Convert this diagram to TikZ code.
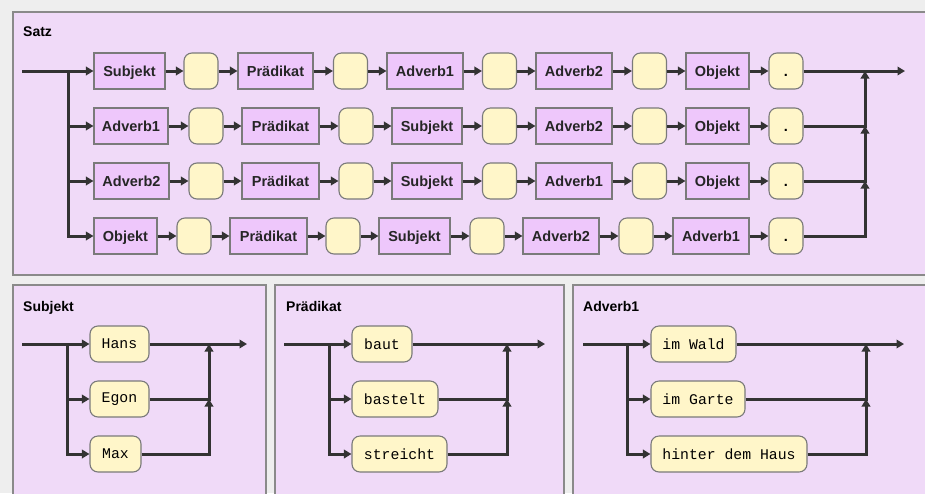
\documentclass[tikz,border=0pt]{standalone}
\usepackage{fontspec}
\setmainfont{Liberation Sans}
\newfontfamily\monof{Liberation Mono}
\usetikzlibrary{arrows.meta}
\definecolor{bgc}{HTML}{EEEEEE}
\definecolor{panelc}{HTML}{F0DAF8}
\definecolor{pboxc}{HTML}{EEC7FB}
\definecolor{yboxc}{HTML}{FFF6C9}
\definecolor{bord}{HTML}{7A7A7A}
\definecolor{pbord}{HTML}{8A8A8A}
\definecolor{ln}{HTML}{333333}
\begin{document}
\begin{tikzpicture}[x=1pt,y=-1pt,
 nt/.style={draw=bord, line width=1.1pt, fill=pboxc, minimum height=36pt, inner sep=0pt, text=black!85, font=\bfseries\fontsize{14.5}{14.5}\selectfont, text height=10.4pt, text depth=0pt},
 tm/.style={draw=bord, line width=1.1pt, fill=yboxc, rounded corners=8pt, minimum height=36pt, minimum width=34pt, inner sep=0pt, font=\bfseries\fontsize{14.5}{14.5}\selectfont, text height=10.4pt, text depth=0pt},
 mt/.style={draw=bord, line width=1.1pt, fill=yboxc, rounded corners=8pt, minimum height=36pt, inner sep=0pt, font=\monof\fontsize{14.8}{14.8}\selectfont},
 flow/.style={draw=ln, line width=3pt, -{Triangle[length=7.5pt,width=8.5pt]}},
 pan/.style={draw=pbord, fill=panelc, line width=1.5pt},
 ttl/.style={anchor=base west, inner sep=0pt, font=\bfseries\fontsize{14}{14}\selectfont}
]
\useasboundingbox (0,0) rectangle (925,493);
\clip (0,0) rectangle (925,493);
\fill[bgc] (0,0) rectangle (925,493);
% panels
\draw[pan] (13,12) rectangle (940,275);
\draw[pan] (13,285) rectangle (266,510);
\draw[pan] (275,285) rectangle (564,510);
\draw[pan] (573,285) rectangle (940,510);
% titles
\node[ttl] (tsatz) at (23,36) {Satz};
\node[ttl] (tsub) at (23,311) {Subjekt};
\node[ttl] (tpra) at (286,311) {Prädikat};
\node[ttl] (tadv) at (583,311) {Adverb1};
% row 1
\node[nt, minimum width=71pt] (a1) at (129.5,71) {Subjekt};
\node[tm] (a2) at (201,71) {};
\node[nt, minimum width=75pt] (a3) at (275.5,71) {Prädikat};
\node[tm] (a4) at (350.5,71) {};
\node[nt, minimum width=76pt] (a5) at (425,71) {Adverb1};
\node[tm] (a6) at (499.5,71) {};
\node[nt, minimum width=76pt] (a7) at (574,71) {Adverb2};
\node[tm] (a8) at (649.5,71) {};
\node[nt, minimum width=63pt] (a9) at (717.5,71) {Objekt};
\node[tm] (a10) at (786,71) {.};
% row 2
\node[nt, minimum width=74pt] (b1) at (131,126) {Adverb1};
\node[tm] (b2) at (206,126) {};
\node[nt, minimum width=77pt] (b3) at (280.5,126) {Prädikat};
\node[tm] (b4) at (356,126) {};
\node[nt, minimum width=70pt] (b5) at (427,126) {Subjekt};
\node[tm] (b6) at (499.5,126) {};
\node[nt, minimum width=76pt] (b7) at (574,126) {Adverb2};
\node[tm] (b8) at (649.5,126) {};
\node[nt, minimum width=63pt] (b9) at (717.5,126) {Objekt};
\node[tm] (b10) at (786,126) {.};
% row 3
\node[nt, minimum width=75pt] (c1) at (131.5,181) {Adverb2};
\node[tm] (c2) at (206,181) {};
\node[nt, minimum width=77pt] (c3) at (280.5,181) {Prädikat};
\node[tm] (c4) at (356,181) {};
\node[nt, minimum width=70pt] (c5) at (427,181) {Subjekt};
\node[tm] (c6) at (499.5,181) {};
\node[nt, minimum width=76pt] (c7) at (574,181) {Adverb1};
\node[tm] (c8) at (649.5,181) {};
\node[nt, minimum width=63pt] (c9) at (717.5,181) {Objekt};
\node[tm] (c10) at (786,181) {.};
% row 4
\node[nt, minimum width=63pt] (d1) at (125.5,236) {Objekt};
\node[tm] (d2) at (194,236) {};
\node[nt, minimum width=77pt] (d3) at (268.5,236) {Prädikat};
\node[tm] (d4) at (343,236) {};
\node[nt, minimum width=71pt] (d5) at (414.5,236) {Subjekt};
\node[tm] (d6) at (487,236) {};
\node[nt, minimum width=76pt] (d7) at (561,236) {Adverb2};
\node[tm] (d8) at (636,236) {};
\node[nt, minimum width=76pt] (d9) at (711,236) {Adverb1};
\node[tm] (d10) at (786,236) {.};
\foreach \r in {a,b,c,d}{
  \foreach \i [evaluate=\i as \j using int(\i+1)] in {1,...,9}{
    \draw[flow] (\r\i) -- (\r\j);
  }
}
\coordinate (s0) at (22,71);
\coordinate (sb) at (68,71);
\coordinate (m1) at (865,71);
\coordinate (m2) at (865,126);
\coordinate (m3) at (865,181);
\coordinate (e1) at (905,71);
\draw[flow] (s0) -- (a1);
\draw[flow] (sb) |- (b1);
\draw[flow] (sb) |- (c1);
\draw[flow] (sb) |- (d1);
\draw[flow] (a10) -- (e1);
\draw[flow] (b10) -| (m1);
\draw[flow] (c10) -| (m2);
\draw[flow] (d10) -| (m3);
% Subjekt panel
\node[mt, minimum width=59pt] (h1) at (119.5,344) {Hans};
\node[mt, minimum width=59pt] (h2) at (119.5,399) {Egon};
\node[mt, minimum width=51pt] (h3) at (115.5,454) {Max};
\coordinate (hs) at (22,344);
\coordinate (hb) at (67,344);
\coordinate (hm1) at (209,344);
\coordinate (hm2) at (209,399);
\coordinate (he) at (247,344);
\draw[flow] (hs) -- (h1);
\draw[flow] (hb) |- (h2);
\draw[flow] (hb) |- (h3);
\draw[flow] (h1) -- (he);
\draw[flow] (h2) -| (hm1);
\draw[flow] (h3) -| (hm2);
% Praedikat panel
\node[mt, minimum width=60pt] (p1) at (382,344) {baut};
\node[mt, minimum width=86pt] (p2) at (395,399) {bastelt};
\node[mt, minimum width=95pt] (p3) at (399.5,454) {streicht};
\coordinate (ps) at (284,344);
\coordinate (pb) at (329,344);
\coordinate (pm1) at (507,344);
\coordinate (pm2) at (507,399);
\coordinate (pe) at (545,344);
\draw[flow] (ps) -- (p1);
\draw[flow] (pb) |- (p2);
\draw[flow] (pb) |- (p3);
\draw[flow] (p1) -- (pe);
\draw[flow] (p2) -| (pm1);
\draw[flow] (p3) -| (pm2);
% Adverb1 panel
\node[mt, minimum width=85pt] (q1) at (693.5,344) {im Wald};
\node[mt, minimum width=94pt] (q2) at (698,399) {im Garte};
\node[mt, minimum width=156pt] (q3) at (729,454) {hinter dem Haus};
\coordinate (qs) at (583,344);
\coordinate (qb) at (627,344);
\coordinate (qm1) at (866,344);
\coordinate (qm2) at (866,399);
\coordinate (qe) at (904,344);
\draw[flow] (qs) -- (q1);
\draw[flow] (qb) |- (q2);
\draw[flow] (qb) |- (q3);
\draw[flow] (q1) -- (qe);
\draw[flow] (q2) -| (qm1);
\draw[flow] (q3) -| (qm2);
\end{tikzpicture}
\end{document}
